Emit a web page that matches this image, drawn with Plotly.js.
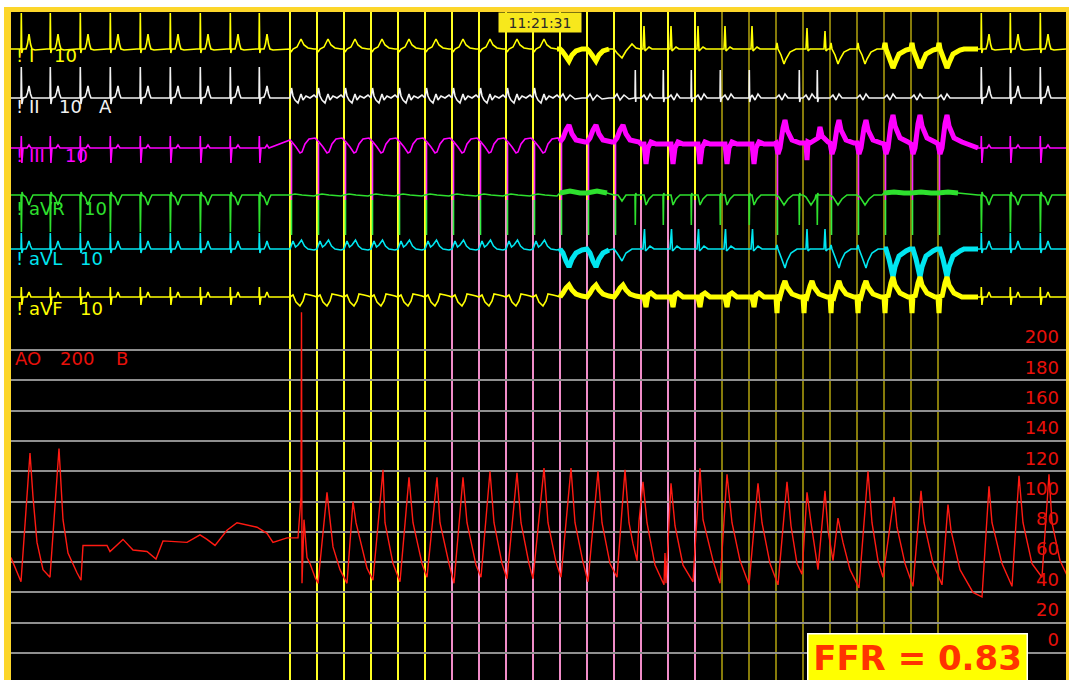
<!DOCTYPE html>
<html>
<head>
<meta charset="utf-8">
<script src="https://cdn.plot.ly/plotly-3.0.1.min.js"></script>
<style>
  html, body { margin: 0; padding: 0; background: #ffffff; }
  #chart { width: 1069px; height: 680px; }
</style>
</head>
<body>
<div id="chart"></div>
<script>
// ---------------------------------------------------------------
// Recording data (time in seconds, ECG in mV, pressure in mmHg)
// ---------------------------------------------------------------

// Intrinsic (sinus) beats before and after the pacing run
const nativeBeats = [0.20, 0.78, 1.38, 1.98, 2.58, 3.18, 3.78, 4.38, 4.96, 19.40, 19.98, 20.58];

// Pacing stimuli
const paceTimes = [5.58, 6.12, 6.66, 7.20, 7.74, 8.28, 8.82, 9.36, 9.90, 10.44,
                   10.98, 11.52, 12.06, 12.60, 13.14, 13.68, 14.22, 14.76, 15.30, 15.84,
                   16.38, 16.92, 17.46, 18.00, 18.54];

// Complex morphology that follows each stimulus
const paceKinds = ['p', 'p', 'p', 'p', 'p', 'p', 'p', 'p', 'p', 'p',
                   'n', 'n', 'q', 'r', 'r', 'r', 'r', 'r', 't', 'd',
                   't', 't', 'T', 'T', 'T'];

// Intrinsic beats breaking through during pacing
const breakthroughBeats = [12.48, 13.04, 13.60, 14.18, 14.76, 15.76, 16.12];

// Beat templates per lead: [ms from event, mV from baseline]
const leadI = {
  N: [[-60, 0], [0, 0], [6, 1.8], [16, -0.2], [36, 0], [100, 0], [130, 0.25], [160, 0.75], [190, 0.25], [220, 0], [280, -0.05]],
  p: [[0, 0], [20, -0.15], [60, 0], [140, 0.1], [220, 0.5], [280, 0.2], [360, 0.05], [480, 0]],
  n: [[0, 0], [40, -0.1], [100, -0.3], [180, -0.6], [240, -0.3], [320, -0.1], [440, 0], [520, 0]],
  q: [[0, 0], [60, -0.2], [160, -0.45], [240, -0.1], [360, 0.25], [440, 0.05], [520, 0]],
  r: [[0, 0], [40, 0], [60, 1.15], [80, -0.1], [120, 0], [160, 0.1], [220, 0], [500, 0]],
  t: [[0, 0], [20, 0.3], [40, 0], [100, -0.3], [160, -0.75], [200, -0.5], [280, -0.15], [400, 0]],
  d: [[0, 0], [60, 0], [80, 1.05], [100, -0.1], [140, 0], [420, 0], [440, 0.9], [460, -0.1], [500, 0]],
  T: [[0, 0], [20, 0.3], [40, 0], [100, -0.4], [180, -0.95], [220, -0.7], [300, -0.25], [440, -0.05], [520, 0]]
};

const leadIISmall = [[0, 0], [60, 0.15], [120, -0.1], [180, 0.2], [240, 0], [400, 0]];
const leadII = {
  N: [[-60, 0], [0, 0], [6, 1.55], [18, -0.3], [40, 0], [100, 0.05], [130, 0.25], [160, 0.6], [190, 0.2], [220, 0]],
  p: [[0, 0], [30, 0.5], [60, 0.1], [100, -0.1], [160, -0.25], [220, 0.2], [260, -0.1], [320, 0.1], [400, 0], [480, 0.15]],
  n: [[0, 0], [60, 0.2], [120, -0.1], [200, 0.15], [300, -0.05], [440, 0]],
  q: [[0, 0], [60, 0.2], [120, -0.1], [200, 0.15], [300, -0.05], [440, 0]],
  r: leadIISmall, t: leadIISmall, d: leadIISmall, T: leadIISmall,
  W: [[-20, 0], [0, 0], [6, 1.4], [14, -0.2], [30, 0]]
};

const leadIII = {
  N: [[-60, 0], [0, 0], [6, 0.6], [18, -0.75], [40, 0], [120, 0], [160, 0.15], [200, 0]],
  p: [[0, 0.4], [40, 0.3], [120, 0.05], [200, -0.25], [240, -0.2], [300, 0.2], [380, 0.45], [500, 0.5]],
  n: [[0, 0.3], [60, 0.5], [120, 0.9], [180, 1.15], [240, 0.7], [320, 0.4], [500, 0.3]],
  q: [[0, 0.3], [60, 0.5], [120, 0.9], [180, 1.15], [240, 0.7], [320, 0.4], [500, 0.3]],
  r: [[0, 0.2], [60, 0.2], [100, -0.8], [140, 0], [200, 0.3], [300, 0.2], [500, 0.2]],
  t: [[0, 0.25], [40, -0.3], [80, 0], [140, 1.0], [180, 1.4], [220, 0.9], [320, 0.4], [480, 0.25]],
  d: [[0, 0.25], [60, 0.25], [80, -0.6], [100, 0.3], [140, 0.25], [300, 0.5], [340, 1.05], [380, 0.6], [500, 0.3]],
  T: [[0, 0.2], [40, -0.3], [80, 0], [140, 1.2], [180, 1.65], [220, 1.1], [320, 0.5], [480, 0.3]]
};

const leadAVR = {
  N: [[-60, 0], [0, 0], [8, -1.85], [20, 0.15], [40, 0], [100, -0.1], [160, -0.5], [200, -0.2], [240, 0]],
  p: [[0, 0], [100, 0.05], [240, 0], [480, -0.05]],
  n: [[0, 0.1], [200, 0.2], [400, 0.1]],
  q: [[0, 0], [80, 0], [160, -0.3], [240, 0], [400, 0]],
  r: [[0, 0], [60, 0], [100, -0.5], [160, -0.2], [240, 0], [500, 0]],
  t: [[0, 0], [60, -0.1], [160, -0.5], [240, -0.2], [340, 0], [500, 0]],
  d: [[0, 0], [60, -0.1], [160, -0.5], [240, -0.2], [340, 0], [500, 0]],
  T: [[0, 0.1], [200, 0.15], [400, 0.1]],
  W: [[-20, 0], [0, 0], [6, -1.5], [14, 0.1], [30, 0]]
};

const leadAVL = {
  N: [[-60, 0], [0, 0], [6, 0.8], [18, -0.2], [40, 0], [100, 0], [130, 0.15], [160, 0.4], [190, 0.15], [220, 0]],
  p: [[0, 0], [60, 0.4], [110, 0.1], [160, 0.2], [230, 0.45], [290, 0.15], [360, 0], [480, -0.05]],
  n: [[0, 0], [60, -0.2], [120, -0.6], [180, -0.9], [240, -0.5], [320, -0.2], [440, -0.05]],
  q: [[0, 0], [60, -0.2], [160, -0.6], [240, -0.2], [360, 0], [500, 0]],
  r: [[0, 0], [40, 0], [70, 1.0], [90, -0.1], [130, 0], [180, 0.15], [260, 0], [500, 0]],
  t: [[0, 0], [20, 0.2], [40, 0], [100, -0.4], [180, -0.95], [220, -0.6], [300, -0.2], [420, 0]],
  d: [[0, 0], [60, 0], [80, 1.0], [100, -0.1], [140, 0], [420, 0], [440, 1.0], [460, -0.1], [500, 0]],
  T: [[0, 0], [40, 0], [100, -0.5], [180, -1.4], [220, -0.9], [300, -0.35], [440, -0.1], [520, 0]]
};

const leadAVF = {
  N: [[-60, 0], [0, 0], [6, 0.5], [18, -0.4], [40, 0], [120, 0], [160, 0.25], [200, 0]],
  p: [[0, 0], [60, 0.1], [120, -0.25], [200, -0.45], [260, -0.2], [300, 0.15], [400, 0.1], [480, 0.05]],
  n: [[0, 0], [60, 0.2], [120, 0.45], [180, 0.6], [240, 0.35], [320, 0.15], [440, 0.05]],
  q: [[0, 0], [60, 0.2], [120, 0.45], [180, 0.6], [240, 0.35], [320, 0.15], [440, 0.05]],
  r: [[0, 0], [60, 0], [100, -0.5], [140, 0.1], [200, 0.2], [300, 0], [500, 0]],
  t: [[0, 0], [20, -0.8], [40, 0.1], [80, 0], [140, 0.55], [180, 0.8], [220, 0.5], [320, 0.15], [480, 0]],
  d: [[0, 0], [20, -0.8], [40, 0.1], [80, 0], [140, 0.55], [180, 0.8], [220, 0.5], [320, 0.15], [480, 0]],
  T: [[0, 0], [20, -0.8], [40, 0.1], [80, 0], [140, 0.7], [180, 1.0], [220, 0.6], [320, 0.2], [480, 0]]
};

// Aortic pressure (AO), mmHg
const pressT = [0.00, 0.20, 0.38, 0.44, 0.52, 0.64, 0.78, 0.96, 1.04, 1.14,
  1.32, 1.40, 1.44, 1.92, 1.98, 2.24, 2.44, 2.72, 2.90, 3.04,
  3.52, 3.78, 3.92, 4.08, 4.32, 4.52, 4.92, 5.12, 5.24, 5.52,
  5.74, 5.80, 5.81, 5.82, 5.86, 5.92, 5.98, 6.08, 6.14, 6.32,
  6.38, 6.44, 6.58, 6.72, 6.84, 6.90, 7.12, 7.24, 7.44, 7.48,
  7.64, 7.78, 7.96, 8.04, 8.22, 8.32, 8.52, 8.58, 8.76, 8.86,
  9.04, 9.12, 9.30, 9.40, 9.58, 9.66, 9.82, 9.92, 10.12, 10.20,
  10.36, 10.44, 10.66, 10.74, 10.90, 11.00, 11.20, 11.28, 11.44, 11.54,
  11.74, 11.82, 11.98, 12.12, 12.28, 12.36, 12.44, 12.52, 12.56, 12.64,
  12.72, 12.88, 13.06, 13.08, 13.10, 13.20, 13.28, 13.44, 13.64, 13.78,
  13.84, 14.04, 14.18, 14.32, 14.42, 14.58, 14.76, 14.94, 15.02, 15.18,
  15.34, 15.52, 15.60, 15.72, 15.82, 15.92, 16.00, 16.14, 16.28, 16.34,
  16.44, 16.54, 16.64, 16.78, 16.96, 17.14, 17.22, 17.34, 17.44, 17.66,
  17.72, 17.88, 18.04, 18.20, 18.26, 18.44, 18.62, 18.74, 18.80, 18.98,
  19.24, 19.42, 19.56, 19.62, 19.82, 20.02, 20.16, 20.24, 20.42, 20.62,
  20.76, 20.82, 20.98, 21.14];
const pressV = [63, 47, 132, 103, 73, 55, 50, 135, 88, 66,
  53, 48, 71, 71, 67, 75, 68, 67, 62, 74,
  73, 78, 75, 71, 81, 86, 83, 79, 73, 76,
  76, 103, 225, 46, 88, 63, 59, 50, 46, 106,
  88, 70, 55, 46, 100, 86, 56, 48, 121, 86,
  59, 47, 116, 86, 59, 50, 116, 86, 59, 46,
  116, 86, 58, 50, 120, 86, 59, 49, 119, 86,
  59, 49, 122, 86, 60, 50, 122, 86, 60, 47,
  120, 86, 59, 50, 121, 86, 72, 61, 87, 113,
  86, 58, 45, 66, 46, 112, 84, 58, 47, 122,
  88, 61, 46, 118, 86, 61, 45, 112, 86, 59,
  45, 113, 84, 59, 52, 106, 86, 55, 107, 81,
  61, 89, 73, 55, 43, 120, 86, 61, 50, 103,
  83, 59, 44, 107, 86, 59, 45, 98, 81, 55,
  40, 37, 110, 86, 59, 44, 117, 86, 59, 50,
  118, 86, 61, 50];

// Pressure scale labels
const pressTicks = [0, 20, 40, 60, 80, 100, 120, 140, 160, 180, 200];

// ---------------------------------------------------------------
// Screen geometry
// ---------------------------------------------------------------
const W = 1069, H = 680;
const M = { l: 11, r: 3, t: 12, b: 0 };
const plotW = W - M.l - M.r;
const plotH = H - M.t - M.b;
const px = x => (x - M.l) / plotW;          // screen x -> paper
const py = y => (H - M.b - y) / plotH;      // screen y -> paper
const SWEEP = 50;                            // px per second
const GAIN = 20;                             // px per mV
const FONT = 'DejaVu Sans, Verdana, sans-serif';

// Lead display settings: baseline row (screen px), label placement, heavy-noise stretches
const leads = [
  { tpl: leadI,   color: '#ffff00', base: 49,  name: '! I',   gain: '10', gainX: 52, labelY: 56,
    noisy: [[10.88, 12.02], [17.44, 19.38]] },
  { tpl: leadII,  color: '#f2f2f2', base: 98,  name: '! II',  gain: '10', gainX: 57, labelY: 106, extra: 'A', extraX: 97,
    noisy: [] },
  { tpl: leadIII, color: '#ff00ff', base: 148, name: '! III', gain: '10', gainX: 63, labelY: 155,
    noisy: [[10.98, 19.38]] },
  { tpl: leadAVR, color: '#2ee02e', base: 195, name: '! aVR', gain: '10', gainX: 82, labelY: 208,
    noisy: [[10.98, 11.98], [17.46, 19.32]] },
  { tpl: leadAVL, color: '#00e6f0', base: 249, name: '! aVL', gain: '10', gainX: 78, labelY: 258,
    noisy: [[10.98, 12.04], [17.46, 19.38]] },
  { tpl: leadAVF, color: '#ffff00', base: 297, name: '! aVF', gain: '10', gainX: 78, labelY: 308,
    noisy: [[10.98, 19.38]] }
];

const tEnd = plotW / SWEEP;

function buildLead(tpl) {
  const pts = [[0, 0]];
  const place = (t0, shape) => shape.forEach(([ms, mv]) => pts.push([t0 + ms / 1000, mv]));
  nativeBeats.forEach(t => place(t, tpl.N));
  paceTimes.forEach((t, i) => place(t, tpl[paceKinds[i]]));
  if (tpl.W) breakthroughBeats.forEach(t => place(t, tpl.W));
  pts.push([tEnd, 0]);
  pts.sort((a, b) => a[0] - b[0]);
  return pts;
}

const traces = [];
const layout = {
  width: W, height: H,
  margin: M,
  paper_bgcolor: '#ffffff',
  plot_bgcolor: '#000000',
  showlegend: false,
  xaxis: { range: [0, tEnd], visible: false, fixedrange: true },
  yaxis: {
    // AO pressure scale, labels sit just above their grid line
    range: [-(H - 653) / 1.515, (653 - M.t) / 1.515],
    side: 'right',
    tickvals: pressTicks,
    ticklabelposition: 'inside',
    ticklabelshift: -13,
    ticklabelstandoff: 4,
    ticks: '',
    tickfont: { family: FONT, size: 18, color: '#e8100a' },
    showgrid: true, gridcolor: '#8f8f8f', gridwidth: 2,
    zeroline: false, showline: false, automargin: false, fixedrange: true
  },
  shapes: [],
  annotations: []
};

leads.forEach((lead, i) => {
  const ax = 'yaxis' + (i + 2);
  layout[ax] = {
    overlaying: 'y', visible: false, fixedrange: true,
    range: [-(H - lead.base) / GAIN, (lead.base - M.t) / GAIN]
  };
  const pts = buildLead(lead.tpl);
  traces.push({
    type: 'scatter', mode: 'lines', yaxis: 'y' + (i + 2), cliponaxis: true,
    x: pts.map(p => p[0]), y: pts.map(p => p[1]),
    line: { color: lead.color, width: 1.6, simplify: false }, hoverinfo: 'skip'
  });
  if (lead.noisy.length) {
    const nx = [], ny = [];
    lead.noisy.forEach(([a, b]) => {
      pts.filter(p => p[0] >= a && p[0] <= b).forEach(p => { nx.push(p[0]); ny.push(p[1]); });
      nx.push(null); ny.push(null);
    });
    traces.push({
      type: 'scatter', mode: 'lines', yaxis: 'y' + (i + 2),
      x: nx, y: ny, line: { color: lead.color, width: 5, simplify: false }, hoverinfo: 'skip'
    });
  }
  const lbl = (text, x) => ({
    xref: 'paper', yref: 'paper', x: px(x), y: py(lead.labelY),
    xanchor: 'left', yanchor: 'middle', showarrow: false, text,
    font: { family: FONT, size: 18, color: lead.color }
  });
  layout.annotations.push(lbl(lead.name, 14), lbl(lead.gain, lead.gainX));
  if (lead.extra) layout.annotations.push(lbl(lead.extra, lead.extraX));
});

// Aortic pressure trace
traces.push({
  type: 'scatter', mode: 'lines', x: pressT, y: pressV, yaxis: 'y',
  line: { color: '#ff1a12', width: 1.4, simplify: false }, hoverinfo: 'skip'
});

// Pacing stimulus markers running through every channel
const vseg = (t, y0, y1, color, width) => ({
  type: 'line', xref: 'x', yref: 'paper', x0: t, x1: t, y0: py(y0), y1: py(y1),
  line: { color, width }, layer: 'between'
});
paceTimes.forEach((t, k) => {
  const late = k >= 16;
  const upper = late ? '#b3a40e' : '#ffff22';
  const lower = k <= 5 ? '#ffff22' : (late ? '#b3a40e' : '#f08cc8');
  const w = late ? 1.5 : 2;
  layout.shapes.push(vseg(t, 200, H + 5, lower, w));
  layout.shapes.push(vseg(t, M.t - 5, 200, upper, w));
  if ('pnqtT'.includes(paceKinds[k])) {
    layout.shapes.push(vseg(t + 0.03, 143, 200, '#ff22ff', 1.6));
    layout.shapes.push(vseg(t + 0.03, 200, 235, '#33ee44', 1.6));
  }
});

// Yellow monitor frame
const frame = '#fcd62a';
layout.shapes.push(
  { type: 'rect', xref: 'paper', yref: 'paper', x0: px(4), x1: px(M.l), y0: py(H + 2), y1: py(7),
    fillcolor: frame, line: { width: 0 }, layer: 'above' },
  { type: 'rect', xref: 'paper', yref: 'paper', x0: px(4), x1: px(W), y0: py(M.t), y1: py(7),
    fillcolor: frame, line: { width: 0 }, layer: 'above' },
  { type: 'rect', xref: 'paper', yref: 'paper', x0: px(W - M.r), x1: px(W), y0: py(H + 2), y1: py(7),
    fillcolor: frame, line: { width: 0 }, layer: 'above' }
);

// Pressure channel label
const aoLbl = (text, x) => ({
  xref: 'paper', yref: 'paper', x: px(x), y: py(358), xanchor: 'left', yanchor: 'middle',
  showarrow: false, text, font: { family: FONT, size: 18, color: '#e8100a' }
});
layout.annotations.push(aoLbl('AO', 13), aoLbl('200', 58), aoLbl('B', 114));

// Clock
layout.annotations.push({
  xref: 'paper', yref: 'paper', x: px(540), y: py(22.5), xanchor: 'center', yanchor: 'middle',
  showarrow: false, text: '11:21:31', bgcolor: '#f7e81c', width: 80, height: 17, borderpad: 1,
  font: { family: FONT, size: 14, color: '#2a2a2a' }
});

// FFR result
layout.annotations.push({
  xref: 'paper', yref: 'paper', x: px(917.5), y: py(633), xanchor: 'center', yanchor: 'top',
  showarrow: false, text: '<b>FFR = 0.83</b>', bgcolor: '#ffff00', bordercolor: '#ffffff',
  borderwidth: 1.5, borderpad: 0, width: 218, height: 46,
  font: { family: FONT, size: 34, color: '#ff3300' }
});

Plotly.newPlot('chart', traces, layout, { staticPlot: true, displayModeBar: false });
</script>
</body>
</html>
